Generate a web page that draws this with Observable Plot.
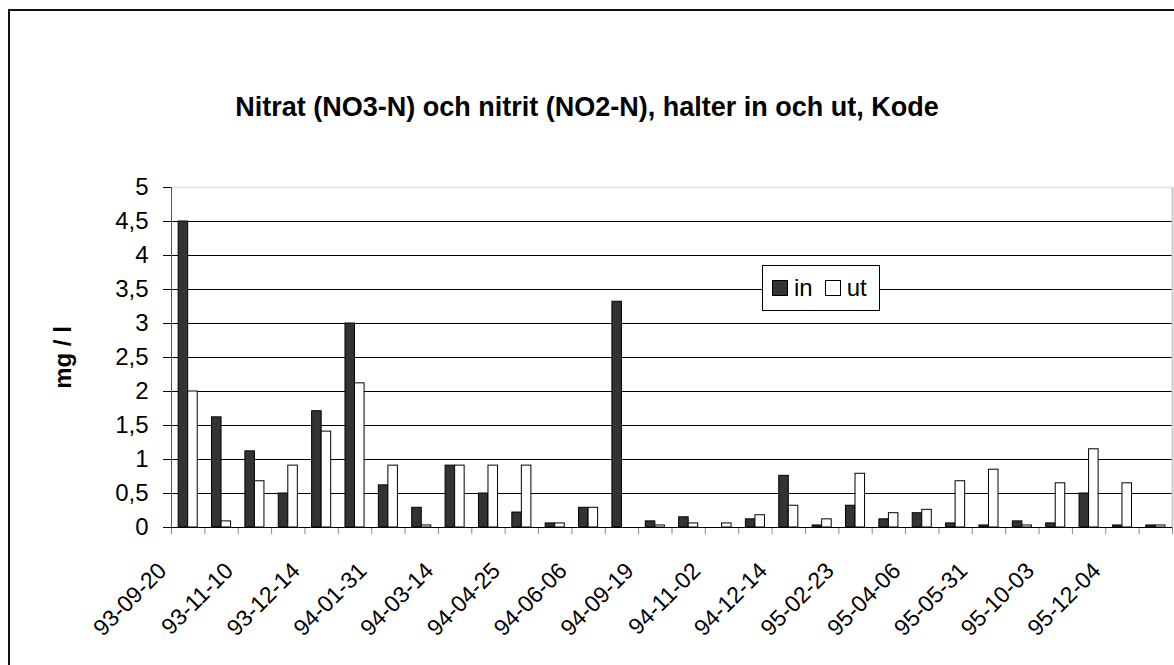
<!DOCTYPE html>
<html>
<head>
<meta charset="utf-8">
<script src="https://cdn.jsdelivr.net/npm/d3@7"></script>
<script src="https://cdn.jsdelivr.net/npm/@observablehq/plot@0.6"></script>
<style>
  html, body { margin: 0; padding: 0; background: #fff; }
  body { font-family: "Liberation Sans", Arial, sans-serif; }
  #wrap { position: relative; width: 1174px; height: 665px; overflow: hidden; }
  #border { position: absolute; left: 8px; top: 9px; width: 1200px; height: 700px; border-left: 2px solid #111; border-top: 2px solid #111; box-sizing: border-box; }
  #title { position: absolute; left: 0; width: 1174px; top: 92px; text-align: center; font-weight: bold; font-size: 27px; color: #000; white-space: nowrap; }
  #chart { position: absolute; left: 0; top: 0; }
  #legend { position: absolute; left: 762px; top: 265px; width: 118px; height: 46px; box-sizing: border-box; border: 1px solid #000; background: #fff; font-size: 24px; display: flex; align-items: center; padding-left: 9px; }
  .sw { display: inline-block; width: 16px; height: 16px; box-sizing: border-box; border: 1px solid #000; margin-right: 6px; }
  .item { display: flex; align-items: center; margin-right: 12px; }
</style>
</head>
<body>
<div id="wrap">
  <div id="border"></div>
  <div id="title">Nitrat (NO3-N) och nitrit (NO2-N), halter in och ut, Kode</div>
  <div id="chart"></div>
  <div id="legend">
    <span class="item"><span class="sw" style="background:#333"></span>in</span>
    <span class="item"><span class="sw" style="background:#fff"></span>ut</span>
  </div>
</div>
<script>
// Tick labels (shown under every other sampling date)
const tickLabels = ["93-09-20","93-11-10","93-12-14","94-01-31","94-03-14","94-04-25","94-06-06","94-09-19","94-11-02","94-12-14","95-02-23","95-04-06","95-05-31","95-10-03","95-12-04"];
// Series values (mg / l), one per sampling date (30 dates)
const inValues = [4.5,1.62,1.12,0.5,1.71,3.0,0.62,0.29,0.91,0.5,0.22,0.06,0.29,3.32,0.09,0.15,0,0.12,0.76,0.03,0.32,0.12,0.21,0.06,0.03,0.09,0.06,0.5,0.03,0.03];
const utValues = [2.0,0.09,0.68,0.91,1.41,2.12,0.91,0.03,0.91,0.91,0.91,0.06,0.29,0,0.03,0.06,0.06,0.18,0.32,0.12,0.79,0.21,0.26,0.68,0.85,0.03,0.65,1.15,0.65,0.03];
const series = ["in", "ut"];
const yTicks = [0,0.5,1,1.5,2,2.5,3,3.5,4,4.5,5];

const n = inValues.length;
const rows = [];
inValues.forEach((v, i) => rows.push({i, s: "in", v}));
utValues.forEach((v, i) => rows.push({i, s: "ut", v}));

// Excel-style grouping: gap width 150% of bar width
const unit = 1 / 3.5;
const off = {in: 0.75 * unit, ut: 1.75 * unit};

const chart = Plot.plot({
  width: 1174,
  height: 665,
  marginLeft: 171,
  marginRight: 2,
  marginTop: 187,
  marginBottom: 138,
  style: {fontFamily: "Liberation Sans, Arial, sans-serif", fontSize: "24px", background: "transparent", color: "#000"},
  x: {type: "linear", domain: [0, n], axis: null},
  y: {domain: [0, 5], axis: null},
  marks: [
    Plot.ruleY(yTicks.filter(d => d > 0 && d < 5), {stroke: "#000", strokeWidth: 1}),
    Plot.ruleY([5], {stroke: "#e8e8e8", strokeWidth: 2}),
    Plot.ruleX([n], {stroke: "#c8c8c8", strokeWidth: 2}),
    Plot.rectY(rows, {
      x1: d => d.i + off[d.s],
      x2: d => d.i + off[d.s] + unit,
      y1: 0,
      y2: "v",
      fill: d => d.s === "in" ? "#333333" : "#ffffff",
      stroke: "#000",
      strokeWidth: 1
    }),
    Plot.axisY({
      ticks: yTicks,
      tickFormat: d => String(d).replace(".", ","),
      tickSize: 8,
      tickPadding: 15,
      fontSize: 24,
      label: "mg / l",
      labelAnchor: "center",
      labelArrow: "none",
      labelOffset: 118
    }),
    Plot.axisX({
      ticks: d3.range(0, n + 1),
      tickFormat: () => "",
      tickSize: 7,
      stroke: "#888",
      label: null
    }),
    Plot.axisX({
      ticks: tickLabels.map((_, k) => 2 * k + 0.5),
      tickFormat: d => tickLabels[(d - 0.5) / 2],
      tickSize: 0,
      tickRotate: -45,
      tickPadding: 34,
      dx: -25.5,
      dy: 5.5,
      fontSize: 23,
      label: null
    }),
    Plot.ruleY([0], {stroke: "#000", strokeWidth: 1}),
    Plot.ruleX([0], {stroke: "#555", strokeWidth: 1})
  ]
});
// bold y-axis label
chart.querySelectorAll("[aria-label='y-axis label'] text, [aria-label='y-axis label']").forEach(el => { el.style.fontWeight = "bold"; });
document.getElementById("chart").appendChild(chart);
</script>
</body>
</html>
